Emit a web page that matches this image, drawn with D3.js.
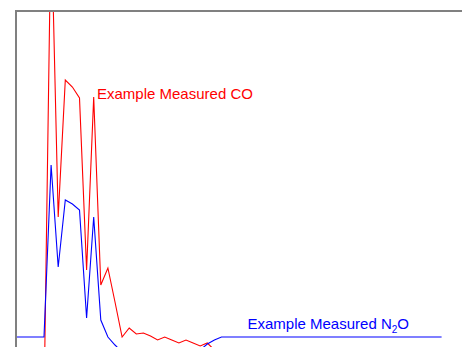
<!DOCTYPE html>
<html>
<head>
<meta charset="utf-8">
<script src="https://cdn.jsdelivr.net/npm/d3@7"></script>
<style>
html,body{margin:0;padding:0;background:#fff;overflow:hidden;}
svg{display:block;}
text{font-family:"Liberation Sans",Arial,sans-serif;}
</style>
</head>
<body>
<script>
// Measured concentrations (arbitrary units) per sample index
const coValues = [1.5,1.5,1.5,1.5,1.5,124,48.5,82.75,81,78.25,35.25,78.5,31.5,35.75,27.25,18.5,20.75,19.25,19.5,18.75,
  17.75,18.5,17.75,17,17.75,17,16.25,17,15.25,12,9,6,4,3,2.5,2,2,1.5,1.5,1.5,
  1.5,1.5,1.5,1.5,1.5,1.5,1.5,1.5,1.5,1.5,1.5,1.5,1.5,1.5,1.5,1.5,1.5,1.5,1.5,1.5,1.5];
const n2oValues = [18.5,18.5,18.5,18.5,18.5,61.5,36,52.75,51.75,50.25,23.25,48.5,22.75,18.5,16.5,14.75,13.75,13,12.75,12.5,
  12.5,12.5,12.5,12.75,13,13.75,15.25,16.75,17.75,18.5,18.5,18.5,18.5,18.5,18.5,18.5,18.5,18.5,18.5,18.5,
  18.5,18.5,18.5,18.5,18.5,18.5,18.5,18.5,18.5,18.5,18.5,18.5,18.5,18.5,18.5,18.5,18.5,18.5,18.5,18.5,18.5];
const coLabel = "Example Measured CO";
const n2oLabelParts = ["Example Measured N", "2", "O"];

const W = 462, H = 347;
const pLeft = 16, pTop = 11, pRight = 520, pBottom = 411;

const svg = d3.select("body").append("svg").attr("width", W).attr("height", H);

const x = d3.scaleLinear().domain([0, 60]).range([15.6, 441.6]);
const y = d3.scaleLinear().domain([0, 100]).range([pBottom, pTop]);

svg.append("clipPath").attr("id", "clip")
  .append("rect").attr("x", pLeft).attr("y", pTop).attr("width", pRight - pLeft).attr("height", pBottom - pTop + 50);

const line = d3.line().x((d, i) => x(i)).y(d => y(d));

const g = svg.append("g").attr("clip-path", "url(#clip)");
g.append("path").datum(coValues).attr("d", line)
  .attr("fill", "none").attr("stroke", "#ff0000").attr("stroke-width", 1.1);
g.append("path").datum(n2oValues).attr("d", line)
  .attr("fill", "none").attr("stroke", "#0000ff").attr("stroke-width", 1.1);

// frame
svg.append("rect").attr("x", pLeft).attr("y", pTop)
  .attr("width", pRight - pLeft).attr("height", pBottom - pTop + 50)
  .attr("fill", "none").attr("stroke", "#808080").attr("stroke-width", 2);

svg.append("text").attr("x", 97).attr("y", 99)
  .attr("fill", "#ff0000").attr("font-size", 15).text(coLabel);

const t = svg.append("text").attr("x", 247.5).attr("y", 328.5)
  .attr("fill", "#0000ff").attr("font-size", 15);
t.append("tspan").text(n2oLabelParts[0]);
t.append("tspan").attr("font-size", 10).attr("dy", 4.5).text(n2oLabelParts[1]);
t.append("tspan").attr("dy", -4.5).text(n2oLabelParts[2]);
</script>
</body>
</html>
